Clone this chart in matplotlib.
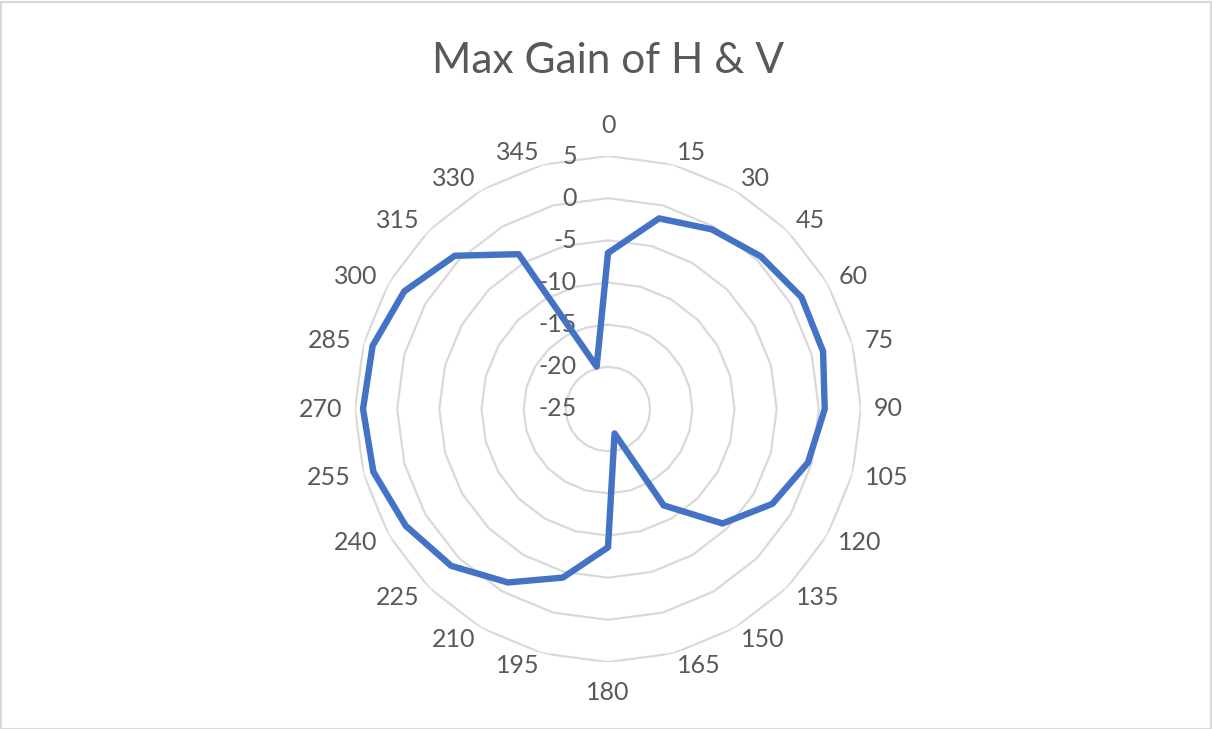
import numpy as np
import matplotlib
matplotlib.use("Agg")
import matplotlib.pyplot as plt
from matplotlib.patches import Rectangle

# ---- data ----
angles_deg = list(range(0, 360, 15))
gain = [-6.5, -1.6, -0.4, 0.6, 1.5, 1.4, 0.7, -0.45, -2.5, -5.8, -11.8, -22.0,
        -8.6, -4.3, -1.25, 1.3, 2.7, 3.8, 4.05, 3.9, 2.9, 0.7, -3.8, -19.8]
angle_labels = [str(a) for a in angles_deg]
r_ticks = [5, 0, -5, -10, -15, -20, -25]
r_min, r_max = -25, 5
title = "Max Gain of H & V"

# ---- style ----
W, H, DPI = 1212, 729, 100
text_col = "#595959"
grid_col = "#D9D9D9"
line_col = "#4472C4"
font = "Lato"

fig = plt.figure(figsize=(W / DPI, H / DPI), dpi=DPI)
fig.patch.set_facecolor("white")

cx, cy, R = 608, 409, 253  # pixel centre and outer radius
ax = fig.add_axes([(cx - R) / W, (H - cy - R) / H, 2 * R / W, 2 * R / H],
                  projection="polar")
ax.set_theta_zero_location("N")
ax.set_theta_direction(-1)
ax.set_ylim(r_min, r_max)
ax.grid(False)
ax.set_xticks([])
ax.set_yticks([])
ax.spines["polar"].set_visible(False)
ax.patch.set_alpha(0)

theta = np.deg2rad(angles_deg + [angles_deg[0]])

# polygonal gridlines
for rv in r_ticks:
    if rv == r_min:
        continue
    ax.plot(theta, [rv] * len(theta), color=grid_col, lw=1.6, zorder=1)

# data line
vals = gain + [gain[0]]
ax.plot(theta, vals, color=line_col, lw=4.6, solid_joinstyle="round",
        solid_capstyle="round", zorder=3)

# radial labels
for rv in r_ticks:
    ax.annotate(str(rv), xy=(0, rv), xytext=(-31, 0), textcoords="offset pixels",
                ha="right", va="center", fontsize=18, color=text_col,
                family=font, annotation_clip=False, zorder=2)

# angle labels
r_lab = r_min + (r_max - r_min) * 266 / R
r_lab_tb = r_min + (r_max - r_min) * 272 / R
for a, lab in zip(angles_deg, angle_labels):
    t = np.deg2rad(a)
    rr = r_lab
    if a == 0:
        ha, va = "center", "bottom"
        rr = r_lab_tb
    elif a == 180:
        ha, va = "center", "top"
        rr = r_lab_tb
    elif a < 180:
        ha, va = "left", "center"
    else:
        ha, va = "right", "center"
    ax.text(t, rr, lab, ha=ha, va=va, fontsize=18, color=text_col,
            family=font, clip_on=False)

fig.text(cx / W, 1 - 61 / H, title, ha="center", va="center", fontsize=30.5,
         color=text_col, family=font)

fig.add_artist(Rectangle((0.5 / W, 0.5 / H), 1 - 2 / W, 1 - 2 / H,
                         transform=fig.transFigure, fill=False,
                         edgecolor="#D9D9D9", lw=1.5))

fig.savefig("out.png", dpi=DPI, facecolor="white")
